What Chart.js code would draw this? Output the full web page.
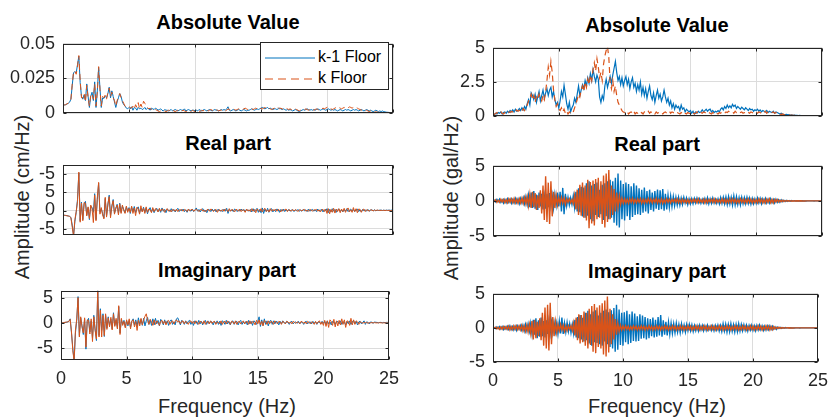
<!DOCTYPE html>
<html>
<head>
<meta charset="utf-8">
<script src="https://cdn.jsdelivr.net/npm/chart.js@4.4.0/dist/chart.umd.min.js"></script>
<style>
body{margin:0;background:#fff;width:832px;height:419px;overflow:hidden;position:relative;font-family:"Liberation Sans",Arial,sans-serif}
.box{position:absolute}
.t{position:absolute;transform:translate(-50%,-50%);white-space:nowrap;color:#262626}
.ttl{font-weight:bold;font-size:20px;color:#000}
.lab{font-size:20px}
.ylab{transform:translate(-50%,-50%) rotate(-90deg)}
#legend{position:absolute;left:260px;top:42px;width:127px;height:46px;border:1px solid #262626;background:#fff;font-size:16px;color:#000;z-index:5}
#legend div{position:absolute;left:57px;white-space:nowrap}
#legend svg{position:absolute;left:4px}
</style>
</head>
<body>
<div class="t ttl" style="left:228px;top:22px">Absolute Value</div>
<div class="t ttl" style="left:657px;top:25px">Absolute Value</div>
<div class="t ttl" style="left:228px;top:143px">Real part</div>
<div class="t ttl" style="left:657px;top:144px">Real part</div>
<div class="t ttl" style="left:227px;top:270px">Imaginary part</div>
<div class="t ttl" style="left:657px;top:271px">Imaginary part</div>
<div class="t lab ylab" style="left:22px;top:197px">Amplitude (cm/Hz)</div>
<div class="t lab ylab" style="left:451px;top:198px">Amplitude (gal/Hz)</div>
<div class="t lab" style="left:227px;top:406px">Frequency (Hz)</div>
<div class="t lab" style="left:657px;top:406px">Frequency (Hz)</div>
<div id="legend">
  <svg width="50" height="46"><line x1="0" y1="15" x2="50" y2="15" stroke="#0072BD" stroke-width="1"/><line x1="0" y1="36" x2="50" y2="36" stroke="#D95319" stroke-width="1" stroke-dasharray="8,5"/></svg>
  <div style="top:5px">k-1 Floor</div>
  <div style="top:26px">k Floor</div>
</div>
<script>
// frequency grid (Hz)
const df=0.1;
const freq=Array.from({length:251},(_,i)=>Math.round(i*df*10)/10);
const xTicks=[0,5,10,15,20,25];
const seriesNames=["k-1 Floor","k Floor"];

// tick values / labels
const absTicksL=[0,0.025,0.05], absLabelsL=["0","0.025","0.05"];
const reTicksL=[-5,0,5,10], reLabelsL=["-5","0","5","-5"];
const imTicksL=[-5,0,5], imLabelsL=["-5","0","5"];
const absTicksR=[0,2.5,5], absLabelsR=["0","2.5","5"];
const reTicksR=[-5,0,5], reLabelsR=["-5","0","5"];

// LEFT: displacement spectra (cm/Hz)
const absK1L=[0.0057,0.0058,0.006,0.0065,0.007,0.0078,0.01,0.02,0.029,0.03,
0.029,0.035,0.041,0.022,0.012,0.01,0.013,0.009,0.021,0.012,
0.004,0.012,0.015,0.009,0.0225,0.004,0.016,0.033,0.018,0.004,
0.011,0.0105,0.012,0.011,0.014,0.0186,0.011,0.016,0.012,0.008,
0.004,0.008,0.011,0.014,0.012,0.008,0.006,0.005,0.0035,0.003,
0.004,
0.003,0.0045,0.002,0.004,0.0035,0.002,0.004,0.003,0.0035,0.0025,
0.003,0.004,0.0025,0.0035,0.003,0.002,0.0035,0.003,0.0025,0.0035,
0.003,0.002,0.0025,0.003,0.002,0.0015,0.0025,0.002,0.002,0.0015,
0.002,0.0025,0.0015,0.002,0.0025,0.002,0.0015,0.002,0.0025,0.002,
0.002,0.003,0.0015,0.002,0.0025,0.002,0.0015,0.002,0.002,0.0015,
0.002,0.0015,0.0025,0.002,0.0015,0.002,0.0025,0.002,0.0015,0.002,
0.0025,0.002,0.0015,0.002,0.0025,0.002,0.002,0.0015,0.002,0.0025,
0.002,0.0025,0.002,0.003,0.0045,0.002,0.0015,0.002,0.0025,0.002,
0.0015,0.002,0.0025,0.002,0.0015,0.002,0.0025,0.002,0.0015,0.002,
0.002,0.0025,0.003,0.0025,0.002,0.0025,0.003,0.0025,0.003,0.0035,
0.004,0.0035,0.003,0.0035,0.004,0.003,0.0035,0.003,0.0025,0.003,
0.003,0.0025,0.003,0.0035,0.003,0.0025,0.003,0.0025,0.002,0.0025,
0.002,0.0025,0.002,0.0015,0.002,0.0025,0.002,0.0015,0.001,0.0015,
0.002,0.0025,0.002,0.0025,0.003,0.0025,0.002,0.0025,0.002,0.0025,
0.002,0.0025,0.003,0.0025,0.002,0.0025,0.003,0.0025,0.002,0.0025,
0.003,0.0025,0.002,0.0025,0.002,0.0025,0.002,0.0015,0.002,0.0025,
0.002,0.0015,0.002,0.0025,0.002,0.0025,0.002,0.0015,0.002,0.0025,
0.002,0.0025,0.002,0.0015,0.002,0.0025,0.002,0.0015,0.002,0.0025,
0.002,0.0015,0.002,0.0015,0.001,0.0015,0.002,0.0015,0.001,0.0015,
0.001,0.0015,0.001,0.0008,0.0006,0.0005,0.0004,0.0003,0.0002,0.0001];
const absKL=[0.0057,0.0058,0.006,0.0066,0.0072,0.008,0.01,0.021,0.03,0.03,
0.028,0.034,0.0415,0.024,0.011,0.011,0.014,0.008,0.02,0.011,
0.005,0.013,0.014,0.01,0.021,0.005,0.015,0.0335,0.017,0.005,
0.012,0.011,0.013,0.01,0.015,0.018,0.012,0.015,0.011,0.009,
0.005,0.009,0.012,0.014,0.011,0.009,0.007,0.005,0.004,0.004,
0.0045,
0.004,0.0035,0.005,0.003,0.006,0.004,0.0075,0.003,0.0065,0.004,
0.0085,0.007,0.005,0.004,0.003,0.0035,0.0025,0.003,0.002,0.0025,
0.002,0.0015,0.001,0.0015,0.001,0.0012,0.0015,0.001,0.0015,0.002,
0.0015,0.001,0.002,0.0015,0.001,0.0015,0.002,0.0015,0.001,0.0015,
0.002,0.0015,0.001,0.0015,0.002,0.0015,0.001,0.002,0.0015,0.001,
0.0015,0.002,0.0015,0.001,0.002,0.0015,0.002,0.0025,0.002,0.0015,
0.002,0.0025,0.002,0.0015,0.002,0.0025,0.002,0.0015,0.002,0.002,
0.0025,0.002,0.0015,0.002,0.003,0.0025,0.002,0.0025,0.003,0.0025,
0.002,0.0025,0.003,0.0025,0.002,0.0025,0.003,0.0035,0.003,0.0025,
0.003,0.0035,0.003,0.0025,0.003,0.0035,0.003,0.0025,0.003,0.0035,
0.003,0.0035,0.004,0.0035,0.003,0.0035,0.003,0.0025,0.003,0.0035,
0.003,0.0035,0.004,0.003,0.0035,0.003,0.0025,0.003,0.0035,0.003,
0.0025,0.003,0.0025,0.002,0.0025,0.003,0.0025,0.002,0.0015,0.002,
0.0025,0.002,0.0025,0.003,0.0025,0.002,0.0025,0.003,0.0025,0.002,
0.0025,0.003,0.0025,0.002,0.0025,0.003,0.0035,0.003,0.0035,0.004,
0.0045,0.004,0.003,0.0025,0.003,0.0035,0.004,0.0045,0.004,0.0035,
0.003,0.0035,0.004,0.0035,0.003,0.0035,0.0045,0.004,0.0035,0.004,
0.0045,0.004,0.0035,0.003,0.0025,0.002,0.0025,0.002,0.0015,0.002,
0.0015,0.001,0.0015,0.001,0.0008,0.001,0.0008,0.0006,0.0005,0.0004,
0.0003,0.0003,0.0002,0.0002,0.0002,0.0001,0.0001,0.0001,0.0001,0.0001];
const reK1L=[-1.2,-1.3,-1.35,-1.4,-1.5,-1.6,-1.9,-4.0,-6.9,-3.0,
-0.5,3.0,10.3,-2.8,2.3,-2.5,1.8,2.5,-1.2,0.8,
-2.5,1.2,0.8,-0.5,4.6,-2.5,3.0,7.5,-0.5,0.5,
-0.8,-2.0,3.3,-1.5,1.5,4.2,-1.5,1.0,3.0,-0.8,
0.5,1.7,-0.8,2.0,-0.5,1.2,0.3,-0.6,1.0,-0.2,
0.8,
-0.8,0.9,-0.3,1.1,-0.6,0.4,1.0,-0.7,0.6,-0.2,
0.9,-0.5,0.7,-0.9,0.3,0.8,-0.4,0.5,-0.6,0.2,
0.6,-0.3,0.4,-0.5,0.7,-0.2,0.3,-0.6,0.4,0.1,
-0.3,0.5,-0.2,0.3,-0.4,0.2,0.6,-0.3,0.2,-0.1,
0.4,-0.3,0.2,-0.5,0.3,0.1,-0.2,0.4,-0.3,0.2,
0.7,-0.2,0.3,-0.4,0.2,0.5,-0.3,0.1,-0.6,0.3,
0.2,-0.3,0.4,-0.1,0.3,-0.4,0.2,0.3,-0.2,0.1,
-0.3,0.4,-0.2,0.6,-0.8,0.3,-0.1,0.2,-0.3,0.4,
0.1,-0.3,0.2,-0.2,0.4,-0.1,0.3,-0.3,0.2,0.1,
-0.2,0.3,-0.4,0.5,-0.3,0.2,0.6,-0.5,0.3,-0.6,
0.7,-0.8,0.4,-0.3,0.6,-0.5,0.3,0.5,-0.4,0.2,
-0.3,0.4,0.2,-0.5,0.3,-0.2,0.4,-0.3,0.2,-0.1,
0.3,-0.2,0.1,0.2,-0.3,0.2,-0.1,0.3,-0.2,0.1,
-0.2,0.3,-0.1,0.2,-0.3,0.4,-0.2,0.1,0.3,-0.2,
0.2,-0.3,0.4,-0.2,0.1,0.3,-0.4,0.2,-0.1,0.5,
-0.6,0.3,-0.4,0.5,-0.2,0.3,-0.5,0.2,0.4,-0.3,
0.2,-0.4,0.3,-0.2,0.5,-0.3,0.1,0.4,-0.2,0.3,
-0.3,0.2,0.4,-0.3,0.2,-0.4,0.3,-0.1,0.2,-0.2,
0.3,-0.2,0.1,0.2,-0.1,0.2,-0.1,0.1,0.0,0.1,
0.1,0.0,0.1,0.0,0.1,0.05,0.1,0.05,0.1,0.1];
const reKL=[-1.2,-1.3,-1.35,-1.45,-1.5,-1.6,-2.0,-4.5,-7.0,-2.5,
-0.3,2.5,10.5,-3.2,2.0,-2.8,2.2,2.0,-1.5,1.0,
-2.2,1.5,0.5,-3.3,4.2,-2.8,3.5,7.7,-1.0,0.8,
-1.2,-2.3,3.6,-1.8,1.8,3.8,-2.0,1.3,2.7,-1.0,
0.7,1.5,-1.2,1.8,-0.8,1.5,0.0,-0.8,1.2,-0.5,
0.6,
-0.5,1.2,-0.8,0.7,-1.4,0.9,0.5,-1.0,1.3,-0.4,
0.6,-0.8,1.0,-0.5,0.4,0.2,-0.6,0.8,-0.3,0.5,
0.3,-0.4,0.6,-0.2,0.4,0.3,-0.5,0.2,0.5,-0.2,
0.2,-0.4,0.3,0.1,-0.2,0.4,-0.3,0.2,0.1,0.3,
-0.2,0.3,0.1,-0.3,0.4,-0.1,0.2,0.3,-0.2,0.1,
0.3,0.1,-0.3,0.2,0.4,-0.2,0.1,-0.4,0.2,0.3,
-0.2,0.4,0.2,-0.3,0.1,0.3,-0.5,0.2,0.1,-0.2,
0.3,-0.2,0.4,0.1,-0.3,0.5,-0.2,0.3,0.1,-0.4,
0.3,0.2,-0.2,0.4,-0.3,0.2,0.1,-0.5,0.4,-0.1,
0.2,-0.3,0.5,-0.2,0.3,-0.6,0.4,0.2,-0.3,0.5,
-0.4,0.3,0.6,-0.3,0.2,-0.4,0.5,-0.2,0.3,-0.1,
0.4,-0.2,0.3,0.1,-0.4,0.3,-0.1,0.2,0.4,-0.3,
0.2,0.1,-0.2,0.3,-0.1,0.2,0.1,-0.3,0.2,0.1,
-0.1,0.2,0.3,-0.2,0.1,-0.2,0.3,0.1,-0.2,0.2,
0.1,0.3,-0.2,0.2,-0.4,0.2,0.3,-0.3,0.4,-0.8,
0.5,-0.9,0.3,-0.5,0.6,-0.7,0.4,-0.3,0.5,-0.6,
0.4,-0.3,0.6,-0.5,0.3,0.7,-0.4,0.2,-0.5,0.8,
-0.3,0.5,-0.6,0.4,0.3,-0.5,0.2,0.4,-0.3,0.2,
0.1,-0.2,0.2,0.1,-0.1,0.1,0.0,0.1,0.05,0.0,
0.05,0.0,0.05,0.0,0.05,0.0,0.05,0.0,0.0,0.0];
const imK1L=[0,0,0.05,0.1,0.1,0.2,0.3,0.8,-2.0,-5.0,
-7.6,-2.0,0.5,5.2,-2.5,1.0,-0.5,-2.3,0.8,-5.2,
0.3,0.9,-1.8,0.4,-3.0,1.5,-1.2,-3.5,6.4,-2.5,
2.8,-1.5,1.8,-2.7,1.5,-1.0,1.2,-0.6,0.8,-1.2,
2.0,-0.5,0.6,-1.0,3.2,-2.0,0.7,-0.3,0.5,-0.8,
0.4,
-0.6,0.5,-0.9,0.3,0.8,-0.4,0.6,-0.7,1.0,-0.3,
0.7,-0.5,0.9,-0.6,0.4,1.1,-0.3,0.6,-0.5,0.8,
-0.4,0.9,-0.2,0.5,-0.6,0.7,0.3,-0.4,0.6,-0.2,
0.4,-0.5,0.3,0.6,-0.3,0.2,-0.4,0.8,1.0,0.3,
-0.4,0.5,0.2,-0.3,0.4,-0.2,0.3,0.5,-0.3,0.2,
-0.5,0.4,0.2,-0.3,0.5,-0.2,0.3,-0.4,0.2,0.5,
-0.3,0.4,-0.2,0.3,0.2,-0.4,0.3,-0.2,0.4,-0.3,
0.3,-0.5,0.4,0.2,-0.3,0.5,-0.2,0.3,-0.4,0.2,
0.4,-0.3,0.2,0.3,-0.4,0.2,0.5,-0.3,0.2,-0.2,
0.3,-0.4,0.5,-0.2,0.3,-0.5,0.4,0.2,-0.3,0.3,
1.2,-0.7,0.6,-0.5,0.8,-0.3,0.4,-0.6,0.3,0.5,
-0.3,0.4,-0.2,0.3,0.2,-0.4,0.3,-0.2,0.4,0.1,
-0.2,0.3,0.1,-0.3,0.2,0.3,-0.2,0.1,0.2,-0.1,
0.3,-0.2,0.2,0.1,-0.3,0.2,0.3,-0.2,0.1,0.2,
-0.2,0.3,-0.1,0.2,-0.3,0.2,0.1,-0.2,0.3,-0.1,
0.3,-0.3,0.4,-0.2,0.2,-0.4,0.3,0.1,-0.3,0.2,
0.3,-0.2,0.4,-0.3,0.2,0.1,-0.4,0.3,-0.2,0.4,
-0.3,0.2,0.5,-0.2,0.3,-0.4,0.2,0.3,-0.2,0.1,
0.4,-0.3,0.2,0.1,-0.2,0.2,0.1,-0.1,0.2,0.1,
0.1,0.0,0.1,0.1,0.0,0.1,0.05,0.1,0.1,0.1];
const imKL=[0,0,0.05,0.1,0.15,0.2,0.3,0.7,-1.8,-5.5,
-7.5,-1.5,0.8,5.0,-2.8,1.2,-0.8,-2.0,1.0,-4.8,
0.6,0.5,-2.2,0.8,-3.7,1.2,-1.5,-3.2,6.4,-2.8,
2.5,-2.8,1.5,-2.5,1.8,-1.3,1.0,-0.8,1.1,-1.4,
1.8,-0.7,0.9,-1.2,3.4,-2.3,0.9,-0.5,0.3,-1.0,
0.6,
-0.4,0.8,-1.2,0.4,0.6,-0.8,0.3,-1.5,0.5,-0.6,
0.9,-0.4,0.6,1.3,1.8,0.5,-0.3,0.7,0.2,-0.5,
0.6,-0.3,0.4,0.1,-0.5,0.3,0.5,-0.2,0.4,-0.4,
0.3,0.5,-0.3,0.2,0.4,-0.2,0.3,0.6,0.2,0.4,
-0.2,0.3,0.4,-0.2,0.3,0.1,-0.3,0.2,0.4,-0.1,
0.3,-0.2,0.4,0.1,-0.3,0.3,0.2,-0.2,0.4,-0.3,
0.2,0.3,-0.2,0.4,-0.1,0.2,0.3,-0.3,0.2,0.1,
-0.2,0.4,-0.3,0.2,0.3,-0.2,0.4,0.1,-0.3,0.3,
0.2,-0.2,0.4,-0.3,0.2,0.3,-0.2,0.1,0.4,-0.2,
0.2,0.3,-0.3,0.4,-0.2,0.3,0.1,-0.4,0.5,-0.2,
0.6,-0.4,0.3,-0.6,0.5,0.2,-0.3,0.4,-0.2,0.3,
0.2,-0.3,0.4,0.1,-0.2,0.3,0.2,-0.3,0.3,0.1,
-0.2,0.3,0.2,-0.1,0.2,-0.2,0.3,0.1,-0.1,0.2,
0.1,-0.2,0.3,0.2,-0.1,0.2,-0.2,0.3,0.1,-0.2,
0.2,0.1,-0.3,0.3,-0.2,0.2,0.4,-0.3,0.2,-0.5,
0.5,-0.7,0.4,-0.9,0.6,0.3,-0.5,0.7,-0.8,0.4,
-0.6,0.5,-0.4,0.8,-0.3,0.6,-0.9,0.4,0.3,-0.5,
0.9,-0.4,0.6,-0.3,0.4,0.2,-0.3,0.2,0.1,-0.1,
0.1,0.0,0.1,-0.1,0.05,0.0,0.05,0.0,0.05,0.0,
0.0,0.0,0.05,0.0,0.0,0.0,0.0,0.0,0.0,0.0];

// RIGHT: acceleration spectra (gal/Hz)
const absK1R=[0.05,0.1,0.2,0.15,0.25,0.2,0.3,0.15,0.25,0.3,0.2,
0.35,0.25,0.4,0.3,0.45,0.3,0.5,0.35,0.4,0.55,
0.4,0.6,0.45,0.7,0.5,0.9,1.2,0.8,1.7,1.5,
1.2,1.6,1.0,1.4,1.8,1.1,1.5,1.9,1.3,1.7,
2.0,1.5,1.9,2.1,1.4,1.8,1.2,0.8,1.0,0.6,
1.1,1.8,1.4,2.25,1.6,0.9,0.5,1.0,0.3,0.6,
0.8,1.3,1.0,1.6,2.2,1.5,1.9,2.3,2.0,2.6,
2.2,2.8,2.4,3.1,2.6,3.4,2.9,2.5,3.0,2.7,
1.4,1.0,1.5,1.2,2.2,2.7,2.1,2.5,2.9,2.4,
3.0,3.5,4.0,3.2,2.6,2.9,2.3,2.8,2.2,2.6,
2.9,2.3,2.7,2.0,2.5,2.8,2.1,2.4,1.8,2.3,
1.9,2.5,1.6,2.1,1.5,2.0,1.3,1.8,2.2,1.5,
1.2,1.7,1.0,1.5,1.9,1.3,1.6,1.1,1.4,1.9,
1.4,1.0,1.3,0.8,1.1,0.6,0.9,0.5,0.8,0.6,
0.7,0.4,0.8,0.5,0.6,0.3,0.5,0.4,0.3,0.4,
0.2,0.35,0.15,0.3,0.2,0.35,0.25,0.3,0.45,0.3,
0.4,0.5,0.35,0.45,0.5,0.3,0.4,0.25,0.35,0.3,
0.4,0.3,0.5,0.6,0.45,0.7,0.55,0.8,0.6,0.75,
0.6,0.85,0.7,0.8,0.55,0.7,0.6,0.5,0.65,0.55,
0.45,0.6,0.5,0.4,0.55,0.45,0.5,0.35,0.45,0.4,
0.5,0.35,0.45,0.3,0.4,0.35,0.3,0.4,0.25,0.35,
0.3,0.25,0.35,0.2,0.3,0.25,0.2,0.15,0.2,0.15,
0.12,0.1,0.12,0.08,0.1,0.06,0.08,0.05,0.06,0.04,
0.04,0.03,0.04,0.03,0.02,0.03,0.02,0.02,0.02,0.02,
0.02,0.02,0.01,0.02,0.01,0.01,0.02,0.01,0.01,0.01];
const absKR=[0.05,0.12,0.18,0.25,0.15,0.2,0.3,0.2,0.15,0.25,0.3,
0.2,0.3,0.25,0.35,0.3,0.4,0.3,0.45,0.35,0.4,
0.5,0.35,0.55,0.4,0.6,0.8,1.1,1.3,1.6,1.2,
1.5,1.0,1.4,1.2,1.6,1.3,1.1,1.5,1.2,1.8,
2.6,3.6,3.0,4.0,3.2,1.9,1.2,0.7,0.9,0.5,
0.4,0.6,0.3,0.5,0.2,0.35,0.15,0.3,0.2,0.15,
0.3,0.6,0.9,1.2,1.6,1.4,1.9,2.2,1.8,2.5,
2.1,2.7,2.3,3.0,2.6,3.4,3.9,3.3,4.2,3.6,
2.8,3.2,2.6,3.8,4.4,4.8,5.1,4.3,2.5,2.0,
2.6,1.8,2.2,1.5,1.0,0.8,0.6,0.4,0.3,0.25,
0.2,0.3,0.15,0.25,0.3,0.2,0.35,0.15,0.25,0.2,
0.3,0.2,0.25,0.15,0.3,0.2,0.25,0.35,0.2,0.3,
0.2,0.25,0.15,0.3,0.2,0.25,0.3,0.2,0.15,0.25,
0.3,0.2,0.25,0.35,0.2,0.3,0.25,0.15,0.2,0.25,
0.2,0.15,0.25,0.2,0.3,0.2,0.15,0.25,0.2,0.15,
0.2,0.25,0.15,0.2,0.3,0.2,0.15,0.25,0.2,0.3,
0.25,0.2,0.3,0.25,0.2,0.15,0.25,0.2,0.3,0.2,
0.15,0.25,0.2,0.3,0.25,0.2,0.3,0.25,0.35,0.3,
0.25,0.3,0.2,0.35,0.25,0.3,0.2,0.25,0.3,0.2,
0.25,0.2,0.3,0.25,0.2,0.3,0.25,0.2,0.3,0.25,
0.2,0.3,0.25,0.2,0.3,0.25,0.35,0.2,0.3,0.25,
0.2,0.25,0.3,0.2,0.25,0.15,0.2,0.15,0.1,0.15,
0.1,0.08,0.1,0.06,0.08,0.05,0.06,0.04,0.05,0.04,
0.03,0.04,0.03,0.02,0.03,0.02,0.03,0.02,0.02,0.03,
0.02,0.03,0.02,0.02,0.01,0.02,0.01,0.01,0.01,0.01];
const reK1R=[0,0.1,-0.15,0.2,-0.1,0.25,-0.2,0.15,-0.3,0.2,-0.25,
0.3,-0.2,0.25,-0.35,0.2,-0.3,0.35,-0.25,0.3,-0.4,
0.35,-0.3,0.45,-0.4,0.6,-0.5,0.8,-0.9,1.2,-1.0,
1.4,-1.1,0.9,-1.3,1.2,-0.8,1.0,-1.2,0.7,-1.1,
1.0,-0.9,1.1,-0.7,0.8,-1.0,0.9,-0.6,1.2,-0.8,
1.3,-1.5,1.85,-1.9,1.0,-0.7,0.5,-0.6,0.4,-0.5,
0.7,-0.9,1.3,-1.5,1.8,-1.6,2.0,-2.2,1.9,-2.4,
2.5,-2.1,2.8,-2.6,2.2,-2.9,2.4,-2.0,2.6,-2.3,
1.6,-1.9,2.3,-2.7,2.5,-2.2,2.8,-2.6,3.0,-2.4,
2.8,-3.1,3.3,-3.5,3.9,-3.8,2.9,-2.6,2.4,-2.8,
2.6,-2.2,2.4,-2.7,2.1,-2.3,2.5,-2.0,2.2,-1.9,
1.8,-2.0,1.6,-1.7,1.9,-1.5,1.4,-1.8,1.6,-1.3,
1.2,-1.5,1.4,-1.1,1.6,-1.3,1.5,-1.2,1.7,-1.4,
1.0,-1.2,0.8,-0.9,0.7,-0.8,0.6,-0.7,0.5,-0.6,
0.5,-0.6,0.4,-0.5,0.5,-0.3,0.4,-0.5,0.3,-0.4,
0.3,-0.4,0.35,-0.3,0.4,-0.25,0.3,-0.35,0.25,-0.3,
0.35,-0.3,0.45,-0.4,0.3,-0.35,0.4,-0.3,0.25,-0.35,
0.3,-0.4,0.45,-0.35,0.5,-0.4,0.55,-0.5,0.6,-0.45,
0.5,-0.6,0.7,-0.55,0.6,-0.5,0.45,-0.55,0.5,-0.4,
0.45,-0.4,0.5,-0.35,0.4,-0.45,0.35,-0.4,0.3,-0.35,
0.4,-0.3,0.35,-0.4,0.3,-0.25,0.35,-0.3,0.25,-0.3,
0.3,-0.25,0.2,-0.3,0.25,-0.2,0.15,-0.2,0.15,-0.1,
0.1,-0.08,0.06,-0.08,0.05,-0.04,0.05,-0.03,0.03,-0.02,
0.02,-0.02,0.01,-0.02,0.01,-0.01,0.01,-0.01,0.01,0,
0,0.01,0,-0.01,0,0.01,0,0,0,0];
const reKR=[0,-0.1,0.15,-0.2,0.1,-0.2,0.25,-0.15,0.2,-0.25,0.2,
-0.25,0.3,-0.2,0.3,-0.25,0.35,-0.3,0.25,-0.35,0.3,
-0.3,0.4,-0.35,0.5,-0.45,0.6,-0.7,0.9,-1.0,1.3,
-0.9,1.1,-1.3,0.8,-1.0,1.5,-1.8,2.2,-2.7,3.5,
-3.0,2.6,-3.3,2.8,-2.2,1.3,-1.0,0.8,-0.6,0.5,
-0.4,0.5,-0.3,0.4,-0.5,0.3,-0.2,0.3,-0.25,0.2,
-0.4,0.8,-1.2,1.6,-2.0,2.3,-2.1,2.6,-2.4,2.2,
-2.8,3.0,-3.9,2.7,-3.2,2.9,-3.5,3.1,-2.6,3.3,
-2.4,2.8,-3.3,3.6,-3.8,3.9,-3.0,4.4,-2.6,2.2,
-2.0,1.7,-1.5,1.2,-0.9,0.7,-0.5,0.4,-0.35,0.3,
-0.3,0.25,-0.35,0.3,-0.2,0.35,-0.3,0.2,-0.25,0.3,
-0.2,0.3,-0.35,0.25,-0.3,0.2,-0.25,0.35,-0.2,0.3,
-0.3,0.25,-0.2,0.35,-0.3,0.2,-0.25,0.3,-0.35,0.2,
-0.25,0.3,-0.2,0.25,-0.3,0.2,-0.15,0.25,-0.2,0.3,
-0.25,0.2,-0.3,0.25,-0.2,0.15,-0.25,0.2,-0.3,0.2,
-0.2,0.25,-0.15,0.2,-0.25,0.3,-0.2,0.15,-0.2,0.25,
-0.3,0.2,-0.25,0.2,-0.15,0.25,-0.2,0.3,-0.25,0.2,
-0.2,0.15,-0.25,0.3,-0.2,0.25,-0.3,0.2,-0.25,0.3,
-0.25,0.3,-0.2,0.25,-0.3,0.2,-0.25,0.3,-0.2,0.25,
-0.3,0.2,-0.25,0.3,-0.2,0.25,-0.3,0.2,-0.25,0.2,
-0.25,0.3,-0.2,0.25,-0.3,0.2,-0.3,0.25,-0.2,0.3,
-0.25,0.2,-0.3,0.2,-0.15,0.2,-0.15,0.1,-0.1,0.1,
-0.08,0.06,-0.05,0.04,-0.05,0.03,-0.04,0.02,-0.03,0.02,
-0.02,0.02,-0.01,0.02,-0.01,0.01,-0.01,0.01,0,0.01,
0,0,0.01,0,0,0,0,0,0,0];
const imK1R=[0,0.05,-0.1,0.15,-0.1,0.2,-0.15,0.2,-0.25,0.15,-0.2,
0.25,-0.2,0.3,-0.25,0.2,-0.3,0.25,-0.35,0.3,-0.2,
0.35,-0.3,0.4,-0.45,0.5,-0.4,0.6,-0.5,0.7,-0.9,
1.2,-1.0,1.4,-1.5,1.1,-1.3,1.5,-1.2,1.0,-1.4,
1.1,-0.9,1.0,-0.8,0.9,-0.7,0.8,-0.6,0.7,-0.8,
1.0,-0.8,1.5,-0.9,0.7,-0.6,0.8,-0.5,0.6,-0.7,
0.5,-0.8,1.2,-1.4,1.6,-1.5,1.9,-1.7,1.5,-2.0,
2.2,-1.8,2.5,-2.3,2.0,-2.6,2.4,-2.1,2.6,-2.2,
1.8,-2.4,2.2,-2.6,2.5,-2.0,2.7,-2.4,2.3,-2.8,
2.6,-3.0,2.9,-3.5,3.4,-3.2,2.7,-2.5,2.2,-2.6,
2.3,-2.1,2.5,-2.4,2.0,-2.2,2.4,-1.9,2.1,-2.0,
1.7,-1.9,2.0,-1.6,1.8,-1.5,1.6,-1.7,1.4,-1.5,
1.3,-1.2,1.5,-1.4,1.2,-1.3,1.6,-1.1,1.9,-1.3,
1.1,-1.0,0.9,-1.1,0.8,-0.9,0.7,-0.8,0.6,-0.7,
0.7,-0.6,0.5,-0.7,0.6,-0.5,0.4,-0.6,0.5,-0.4,
0.5,-0.4,0.45,-0.5,0.35,-0.4,0.3,-0.45,0.4,-0.3,
0.35,-0.4,0.3,-0.35,0.4,-0.3,0.25,-0.35,0.3,-0.4,
0.35,-0.3,0.4,-0.45,0.35,-0.5,0.6,-0.45,0.55,-0.6,
0.5,-0.55,0.6,-0.5,0.45,-0.6,0.5,-0.55,0.6,-0.45,
0.5,-0.4,0.45,-0.35,0.4,-0.45,0.35,-0.3,0.4,-0.35,
0.3,-0.4,0.35,-0.3,0.4,-0.25,0.3,-0.35,0.25,-0.3,
0.3,-0.25,0.3,-0.2,0.25,-0.2,0.15,-0.2,0.1,-0.1,
0.08,-0.06,0.05,-0.05,0.04,-0.03,0.03,-0.02,0.02,-0.02,
0.01,-0.01,0.01,0,0.01,-0.01,0,0,0,0,
0,0,0,0,0,0,0,0,0,0];
const imKR=[0,-0.05,0.1,-0.15,0.1,-0.2,0.15,-0.2,0.2,-0.15,0.2,
-0.2,0.25,-0.3,0.2,-0.25,0.3,-0.2,0.3,-0.25,0.3,
-0.3,0.35,-0.4,0.3,-0.5,0.4,-0.6,0.5,-0.8,1.0,
-1.7,1.2,-1.5,0.9,-1.2,1.4,-1.8,2.2,-2.6,3.0,
-3.0,3.4,-3.3,3.7,-2.4,1.6,-1.2,0.9,-0.7,0.5,
-0.4,0.5,-0.3,0.4,-0.5,0.3,-0.4,0.3,-0.2,0.3,
-0.4,0.7,-1.1,1.5,-1.8,2.0,-2.3,1.9,-2.1,2.4,
-2.6,2.2,-3.0,2.8,-2.5,3.2,-3.5,3.5,-3.7,3.0,
-2.8,3.3,-3.0,3.6,-3.9,4.0,-4.2,4.6,-3.6,2.8,
-2.4,2.0,-1.7,1.3,-1.0,0.7,-0.5,0.4,-0.3,0.3,
-0.25,0.3,-0.2,0.25,-0.3,0.2,-0.25,0.3,-0.2,0.25,
-0.3,0.2,-0.25,0.3,-0.2,0.25,-0.3,0.2,-0.25,0.3,
-0.2,0.25,-0.3,0.2,-0.25,0.3,-0.2,0.25,-0.3,0.2,
-0.25,0.3,-0.2,0.25,-0.3,0.2,-0.25,0.3,-0.2,0.25,
-0.3,0.2,-0.25,0.3,-0.2,0.25,-0.3,0.2,-0.25,0.3,
-0.2,0.25,-0.3,0.2,-0.25,0.3,-0.2,0.25,-0.3,0.2,
-0.25,0.3,-0.2,0.25,-0.3,0.2,-0.25,0.3,-0.2,0.25,
-0.3,0.2,-0.25,0.3,-0.2,0.25,-0.3,0.2,-0.25,0.3,
-0.2,0.25,-0.3,0.2,-0.25,0.3,-0.2,0.25,-0.3,0.2,
-0.25,0.3,-0.2,0.25,-0.3,0.2,-0.25,0.3,-0.2,0.25,
-0.3,0.2,-0.25,0.3,-0.2,0.25,-0.3,0.2,-0.25,0.3,
-0.2,0.25,-0.3,0.2,-0.25,0.2,-0.15,0.1,-0.1,0.1,
-0.06,0.05,-0.04,0.04,-0.03,0.03,-0.02,0.02,-0.02,0.01,
-0.01,0.01,0,0.01,0,0,0,0,0,0,
0,0,0,0,0,0,0,0,0,0];

const blue="#0072BD", orange="#D95319", gridC="#dcdcdc", txt="#262626";
const tickFont={family:"'Liberation Sans', Arial, sans-serif",size:18};

// axes box + inward tick marks
const boxPlugin={
  id:"box",
  afterDatasetsDraw(c){
    const {ctx,chartArea:a}=c;
    const L=Math.round(a.left)+0.5, R=Math.round(a.right)-0.5, T=Math.round(a.top)+0.5, B=Math.round(a.bottom)-0.5;
    ctx.save();
    ctx.strokeStyle=txt; ctx.lineWidth=1;
    ctx.strokeRect(L,T,R-L,B-T);
    ctx.beginPath();
    c.scales.x.ticks.forEach(t=>{
      const p=Math.round(c.scales.x.getPixelForValue(t.value))+0.5;
      ctx.moveTo(p,B); ctx.lineTo(p,B-3); ctx.moveTo(p,T); ctx.lineTo(p,T+3);
    });
    c.scales.y.ticks.forEach(t=>{
      const p=Math.round(c.scales.y.getPixelForValue(t.value))+0.5;
      ctx.moveTo(L,p); ctx.lineTo(L+3,p); ctx.moveTo(R,p); ctx.lineTo(R-3,p);
    });
    ctx.stroke();
    ctx.restore();
  }
};

function panel(pos,k1,k,yMin,yMax,yTicks,yLabels,showX,style){
  const padT=12, yW=60, xH=30, padR=14;
  const el=document.createElement("div");
  el.className="box";
  el.style.left=(pos.l-yW)+"px";
  el.style.top=(pos.t-padT)+"px";
  el.style.width=(pos.r-pos.l+yW+padR)+"px";
  el.style.height=(pos.b-pos.t+padT+xH)+"px";
  const cv=document.createElement("canvas");
  el.appendChild(cv);
  document.body.appendChild(el);
  return new Chart(cv,{
    type:"line",
    data:{labels:freq,datasets:[
      {label:seriesNames[0],data:k1,borderColor:blue,borderWidth:style.w,order:2},
      {label:seriesNames[1],data:k,borderColor:orange,borderWidth:style.w,borderDash:style.dash,order:1}
    ]},
    options:{
      responsive:true,maintainAspectRatio:false,animation:false,
      layout:{padding:{top:padT,right:padR,left:0,bottom:0}},
      elements:{point:{radius:0},line:{tension:0}},
      plugins:{legend:{display:false},tooltip:{enabled:false}},
      scales:{
        x:{type:"linear",min:0,max:25,
          afterBuildTicks:s=>{s.ticks=xTicks.map(v=>({value:v}));},
          afterFit:s=>{s.height=xH;},
          grid:{color:gridC,drawTicks:false},border:{display:false},
          ticks:{display:showX,padding:8,font:tickFont,color:txt,maxRotation:0,autoSkip:false}},
        y:{min:yMin,max:yMax,
          afterBuildTicks:s=>{s.ticks=yTicks.map(v=>({value:v}));},
          afterFit:s=>{s.width=yW;},
          grid:{color:gridC,drawTicks:false},border:{display:false},
          ticks:{padding:8,font:tickFont,color:txt,autoSkip:false,callback:(v,i)=>yLabels[i]}}
      }
    },
    plugins:[boxPlugin]
  });
}

const absStyle={w:1,dash:[6,4]}, waveStyleL={w:1,dash:[]}, waveStyleR={w:1.4,dash:[]};
panel({l:63,r:393,t:37,b:113},absK1L,absKL,0,0.05,absTicksL,absLabelsL,false,absStyle);
panel({l:63,r:393,t:158,b:235},reK1L,reKL,-6.7,12.5,reTicksL,reLabelsL,false,waveStyleL);
panel({l:61,r:393,t:284,b:360},imK1L,imKL,-7.35,6.35,imTicksL,imLabelsL,true,waveStyleL);
panel({l:493,r:822,t:41,b:116},absK1R,absKR,0,5,absTicksR,absLabelsR,false,{w:1.2,dash:[6,4]});
panel({l:493,r:822,t:159,b:236},reK1R,reKR,-5,5,reTicksR,reLabelsR,false,waveStyleR);
panel({l:493,r:822,t:287,b:362},imK1R,imKR,-5,5,reTicksR,reLabelsR,true,waveStyleR);
</script>
</body>
</html>
